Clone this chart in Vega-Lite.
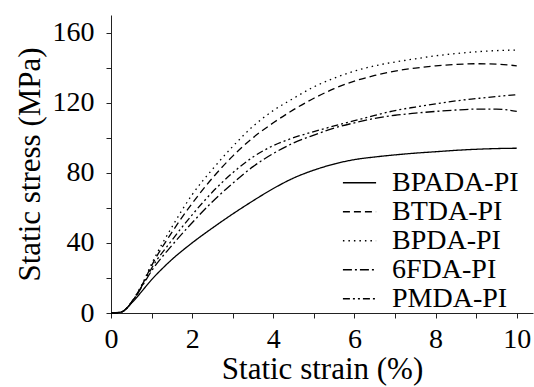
{
  "$schema": "https://vega.github.io/schema/vega-lite/v6.json",
  "autosize": {"type": "none"},
  "padding": {"left": 111, "top": 15, "right": 1, "bottom": 74},
  "width": 422,
  "height": 298,
  "background": "white",
  "config": {
    "view": {"stroke": null},
    "font": "Times New Roman",
    "axis": {
      "labelFont": "Times New Roman",
      "titleFont": "Times New Roman",
      "labelFontSize": 28,
      "titleFontSize": 31,
      "labelColor": "black",
      "titleColor": "black",
      "titleFontWeight": "normal",
      "domainColor": "#222",
      "tickColor": "#222",
      "domainWidth": 1,
      "tickWidth": 1,
      "tickSize": 5,
      "grid": false
    },
    "legend": {
      "labelFont": "Times New Roman",
      "labelFontSize": 28,
      "labelColor": "black"
    }
  },
  "data": {
    "values": [
      {"series": "BPADA-PI", "strain": 0, "stress": 0},
      {"series": "BPADA-PI", "strain": 0.2, "stress": 0.3},
      {"series": "BPADA-PI", "strain": 0.3, "stress": 1},
      {"series": "BPADA-PI", "strain": 0.4, "stress": 3},
      {"series": "BPADA-PI", "strain": 0.5, "stress": 5.5},
      {"series": "BPADA-PI", "strain": 0.6, "stress": 8},
      {"series": "BPADA-PI", "strain": 0.8, "stress": 13.5},
      {"series": "BPADA-PI", "strain": 1, "stress": 19},
      {"series": "BPADA-PI", "strain": 1.25, "stress": 25},
      {"series": "BPADA-PI", "strain": 1.5, "stress": 30.5},
      {"series": "BPADA-PI", "strain": 2, "stress": 40},
      {"series": "BPADA-PI", "strain": 2.5, "stress": 48.5},
      {"series": "BPADA-PI", "strain": 3, "stress": 56.5},
      {"series": "BPADA-PI", "strain": 3.5, "stress": 64},
      {"series": "BPADA-PI", "strain": 4, "stress": 71},
      {"series": "BPADA-PI", "strain": 4.5, "stress": 77},
      {"series": "BPADA-PI", "strain": 5, "stress": 81.5},
      {"series": "BPADA-PI", "strain": 5.5, "stress": 85},
      {"series": "BPADA-PI", "strain": 6, "stress": 87.5},
      {"series": "BPADA-PI", "strain": 6.5, "stress": 89},
      {"series": "BPADA-PI", "strain": 7, "stress": 90.2},
      {"series": "BPADA-PI", "strain": 7.5, "stress": 91.2},
      {"series": "BPADA-PI", "strain": 8, "stress": 92},
      {"series": "BPADA-PI", "strain": 8.5, "stress": 92.8},
      {"series": "BPADA-PI", "strain": 9, "stress": 93.4},
      {"series": "BPADA-PI", "strain": 9.5, "stress": 93.8},
      {"series": "BPADA-PI", "strain": 10, "stress": 94},

      {"series": "BTDA-PI", "strain": 0, "stress": 0},
      {"series": "BTDA-PI", "strain": 0.2, "stress": 0.3},
      {"series": "BTDA-PI", "strain": 0.3, "stress": 1},
      {"series": "BTDA-PI", "strain": 0.4, "stress": 3},
      {"series": "BTDA-PI", "strain": 0.5, "stress": 6},
      {"series": "BTDA-PI", "strain": 0.6, "stress": 9.5},
      {"series": "BTDA-PI", "strain": 0.8, "stress": 17.5},
      {"series": "BTDA-PI", "strain": 1, "stress": 27},
      {"series": "BTDA-PI", "strain": 1.5, "stress": 46},
      {"series": "BTDA-PI", "strain": 2, "stress": 62.5},
      {"series": "BTDA-PI", "strain": 2.5, "stress": 77},
      {"series": "BTDA-PI", "strain": 3, "stress": 89.5},
      {"series": "BTDA-PI", "strain": 3.5, "stress": 100},
      {"series": "BTDA-PI", "strain": 4, "stress": 108.5},
      {"series": "BTDA-PI", "strain": 4.5, "stress": 116},
      {"series": "BTDA-PI", "strain": 5, "stress": 122.5},
      {"series": "BTDA-PI", "strain": 5.5, "stress": 128},
      {"series": "BTDA-PI", "strain": 6, "stress": 132.3},
      {"series": "BTDA-PI", "strain": 6.5, "stress": 135.5},
      {"series": "BTDA-PI", "strain": 7, "stress": 138},
      {"series": "BTDA-PI", "strain": 7.5, "stress": 139.7},
      {"series": "BTDA-PI", "strain": 8, "stress": 141},
      {"series": "BTDA-PI", "strain": 8.5, "stress": 141.8},
      {"series": "BTDA-PI", "strain": 9, "stress": 142.2},
      {"series": "BTDA-PI", "strain": 9.5, "stress": 142},
      {"series": "BTDA-PI", "strain": 10, "stress": 141},

      {"series": "BPDA-PI", "strain": 0, "stress": 0},
      {"series": "BPDA-PI", "strain": 0.2, "stress": 0.3},
      {"series": "BPDA-PI", "strain": 0.3, "stress": 1},
      {"series": "BPDA-PI", "strain": 0.4, "stress": 3},
      {"series": "BPDA-PI", "strain": 0.5, "stress": 6},
      {"series": "BPDA-PI", "strain": 0.6, "stress": 9.5},
      {"series": "BPDA-PI", "strain": 0.8, "stress": 18},
      {"series": "BPDA-PI", "strain": 1, "stress": 28},
      {"series": "BPDA-PI", "strain": 1.5, "stress": 49},
      {"series": "BPDA-PI", "strain": 2, "stress": 67.5},
      {"series": "BPDA-PI", "strain": 2.5, "stress": 82},
      {"series": "BPDA-PI", "strain": 3, "stress": 95},
      {"series": "BPDA-PI", "strain": 3.5, "stress": 106.5},
      {"series": "BPDA-PI", "strain": 4, "stress": 115.5},
      {"series": "BPDA-PI", "strain": 4.5, "stress": 122.5},
      {"series": "BPDA-PI", "strain": 5, "stress": 129},
      {"series": "BPDA-PI", "strain": 5.5, "stress": 134},
      {"series": "BPDA-PI", "strain": 6, "stress": 138},
      {"series": "BPDA-PI", "strain": 6.5, "stress": 141},
      {"series": "BPDA-PI", "strain": 7, "stress": 143.2},
      {"series": "BPDA-PI", "strain": 7.5, "stress": 145},
      {"series": "BPDA-PI", "strain": 8, "stress": 146.7},
      {"series": "BPDA-PI", "strain": 8.5, "stress": 148},
      {"series": "BPDA-PI", "strain": 9, "stress": 149},
      {"series": "BPDA-PI", "strain": 9.5, "stress": 149.7},
      {"series": "BPDA-PI", "strain": 10, "stress": 150},

      {"series": "6FDA-PI", "strain": 0, "stress": 0},
      {"series": "6FDA-PI", "strain": 0.2, "stress": 0.3},
      {"series": "6FDA-PI", "strain": 0.3, "stress": 1},
      {"series": "6FDA-PI", "strain": 0.4, "stress": 3},
      {"series": "6FDA-PI", "strain": 0.5, "stress": 5.8},
      {"series": "6FDA-PI", "strain": 0.6, "stress": 9},
      {"series": "6FDA-PI", "strain": 0.8, "stress": 16.5},
      {"series": "6FDA-PI", "strain": 1, "stress": 24},
      {"series": "6FDA-PI", "strain": 1.5, "stress": 38.5},
      {"series": "6FDA-PI", "strain": 2, "stress": 51.5},
      {"series": "6FDA-PI", "strain": 2.5, "stress": 63.5},
      {"series": "6FDA-PI", "strain": 3, "stress": 74},
      {"series": "6FDA-PI", "strain": 3.5, "stress": 83.5},
      {"series": "6FDA-PI", "strain": 4, "stress": 91},
      {"series": "6FDA-PI", "strain": 4.5, "stress": 97},
      {"series": "6FDA-PI", "strain": 5, "stress": 101.5},
      {"series": "6FDA-PI", "strain": 5.5, "stress": 105.5},
      {"series": "6FDA-PI", "strain": 6, "stress": 108.5},
      {"series": "6FDA-PI", "strain": 6.5, "stress": 111},
      {"series": "6FDA-PI", "strain": 7, "stress": 112.8},
      {"series": "6FDA-PI", "strain": 7.5, "stress": 114},
      {"series": "6FDA-PI", "strain": 8, "stress": 115},
      {"series": "6FDA-PI", "strain": 8.5, "stress": 115.8},
      {"series": "6FDA-PI", "strain": 9, "stress": 116.3},
      {"series": "6FDA-PI", "strain": 9.5, "stress": 116.3},
      {"series": "6FDA-PI", "strain": 10, "stress": 115},

      {"series": "PMDA-PI", "strain": 0, "stress": 0},
      {"series": "PMDA-PI", "strain": 0.2, "stress": 0.3},
      {"series": "PMDA-PI", "strain": 0.3, "stress": 1},
      {"series": "PMDA-PI", "strain": 0.4, "stress": 3},
      {"series": "PMDA-PI", "strain": 0.5, "stress": 5.9},
      {"series": "PMDA-PI", "strain": 0.6, "stress": 9.2},
      {"series": "PMDA-PI", "strain": 0.8, "stress": 17},
      {"series": "PMDA-PI", "strain": 1, "stress": 25.5},
      {"series": "PMDA-PI", "strain": 1.5, "stress": 41.5},
      {"series": "PMDA-PI", "strain": 2, "stress": 56},
      {"series": "PMDA-PI", "strain": 2.5, "stress": 69},
      {"series": "PMDA-PI", "strain": 3, "stress": 80},
      {"series": "PMDA-PI", "strain": 3.5, "stress": 89},
      {"series": "PMDA-PI", "strain": 4, "stress": 95.5},
      {"series": "PMDA-PI", "strain": 4.5, "stress": 100},
      {"series": "PMDA-PI", "strain": 5, "stress": 103.5},
      {"series": "PMDA-PI", "strain": 5.5, "stress": 106.7},
      {"series": "PMDA-PI", "strain": 6, "stress": 109.7},
      {"series": "PMDA-PI", "strain": 6.5, "stress": 112.7},
      {"series": "PMDA-PI", "strain": 7, "stress": 115.5},
      {"series": "PMDA-PI", "strain": 7.5, "stress": 117.5},
      {"series": "PMDA-PI", "strain": 8, "stress": 119.3},
      {"series": "PMDA-PI", "strain": 8.5, "stress": 121},
      {"series": "PMDA-PI", "strain": 9, "stress": 122.3},
      {"series": "PMDA-PI", "strain": 9.5, "stress": 123.5},
      {"series": "PMDA-PI", "strain": 10, "stress": 124.5}
    ]
  },
  "mark": {"type": "line", "interpolate": "monotone", "color": "black", "strokeWidth": 1.3},
  "encoding": {
    "x": {
      "field": "strain",
      "type": "quantitative",
      "scale": {"domain": [0, 10.4], "nice": false},
      "axis": {
        "title": "Static strain (%)",
        "values": [0, 1, 2, 3, 4, 5, 6, 7, 8, 9, 10],
        "labelExpr": "datum.value % 2 == 0 ? datum.label : ''",
        "labelPadding": 7,
        "titlePadding": 1,
        "labelFlush": false,
        "labelOverlap": false
      }
    },
    "y": {
      "field": "stress",
      "type": "quantitative",
      "scale": {"domain": [0, 170], "nice": false},
      "axis": {
        "title": "Static stress (MPa)",
        "values": [0, 20, 40, 60, 80, 100, 120, 140, 160],
        "labelExpr": "datum.value % 40 == 0 ? datum.label : ''",
        "labelPadding": 12,
        "titlePadding": 6,
        "labelFlush": false,
        "labelOverlap": false
      }
    },
    "strokeDash": {
      "field": "series",
      "type": "nominal",
      "scale": {
        "domain": ["BPADA-PI", "BTDA-PI", "BPDA-PI", "6FDA-PI", "PMDA-PI"],
        "range": [[1, 0], [7, 4], [1.5, 4], [9, 3, 2, 3], [7, 3, 2, 3, 2, 3]]
      },
      "legend": {
        "title": null,
        "orient": "none",
        "legendX": 231,
        "legendY": 154,
        "symbolType": "stroke",
        "symbolSize": 1100,
        "symbolStrokeColor": "black",
        "symbolStrokeWidth": 1.3,
        "labelOffset": 15,
        "rowPadding": 0,
        "clipHeight": 27.5,
        "padding": 0
      }
    }
  }
}
